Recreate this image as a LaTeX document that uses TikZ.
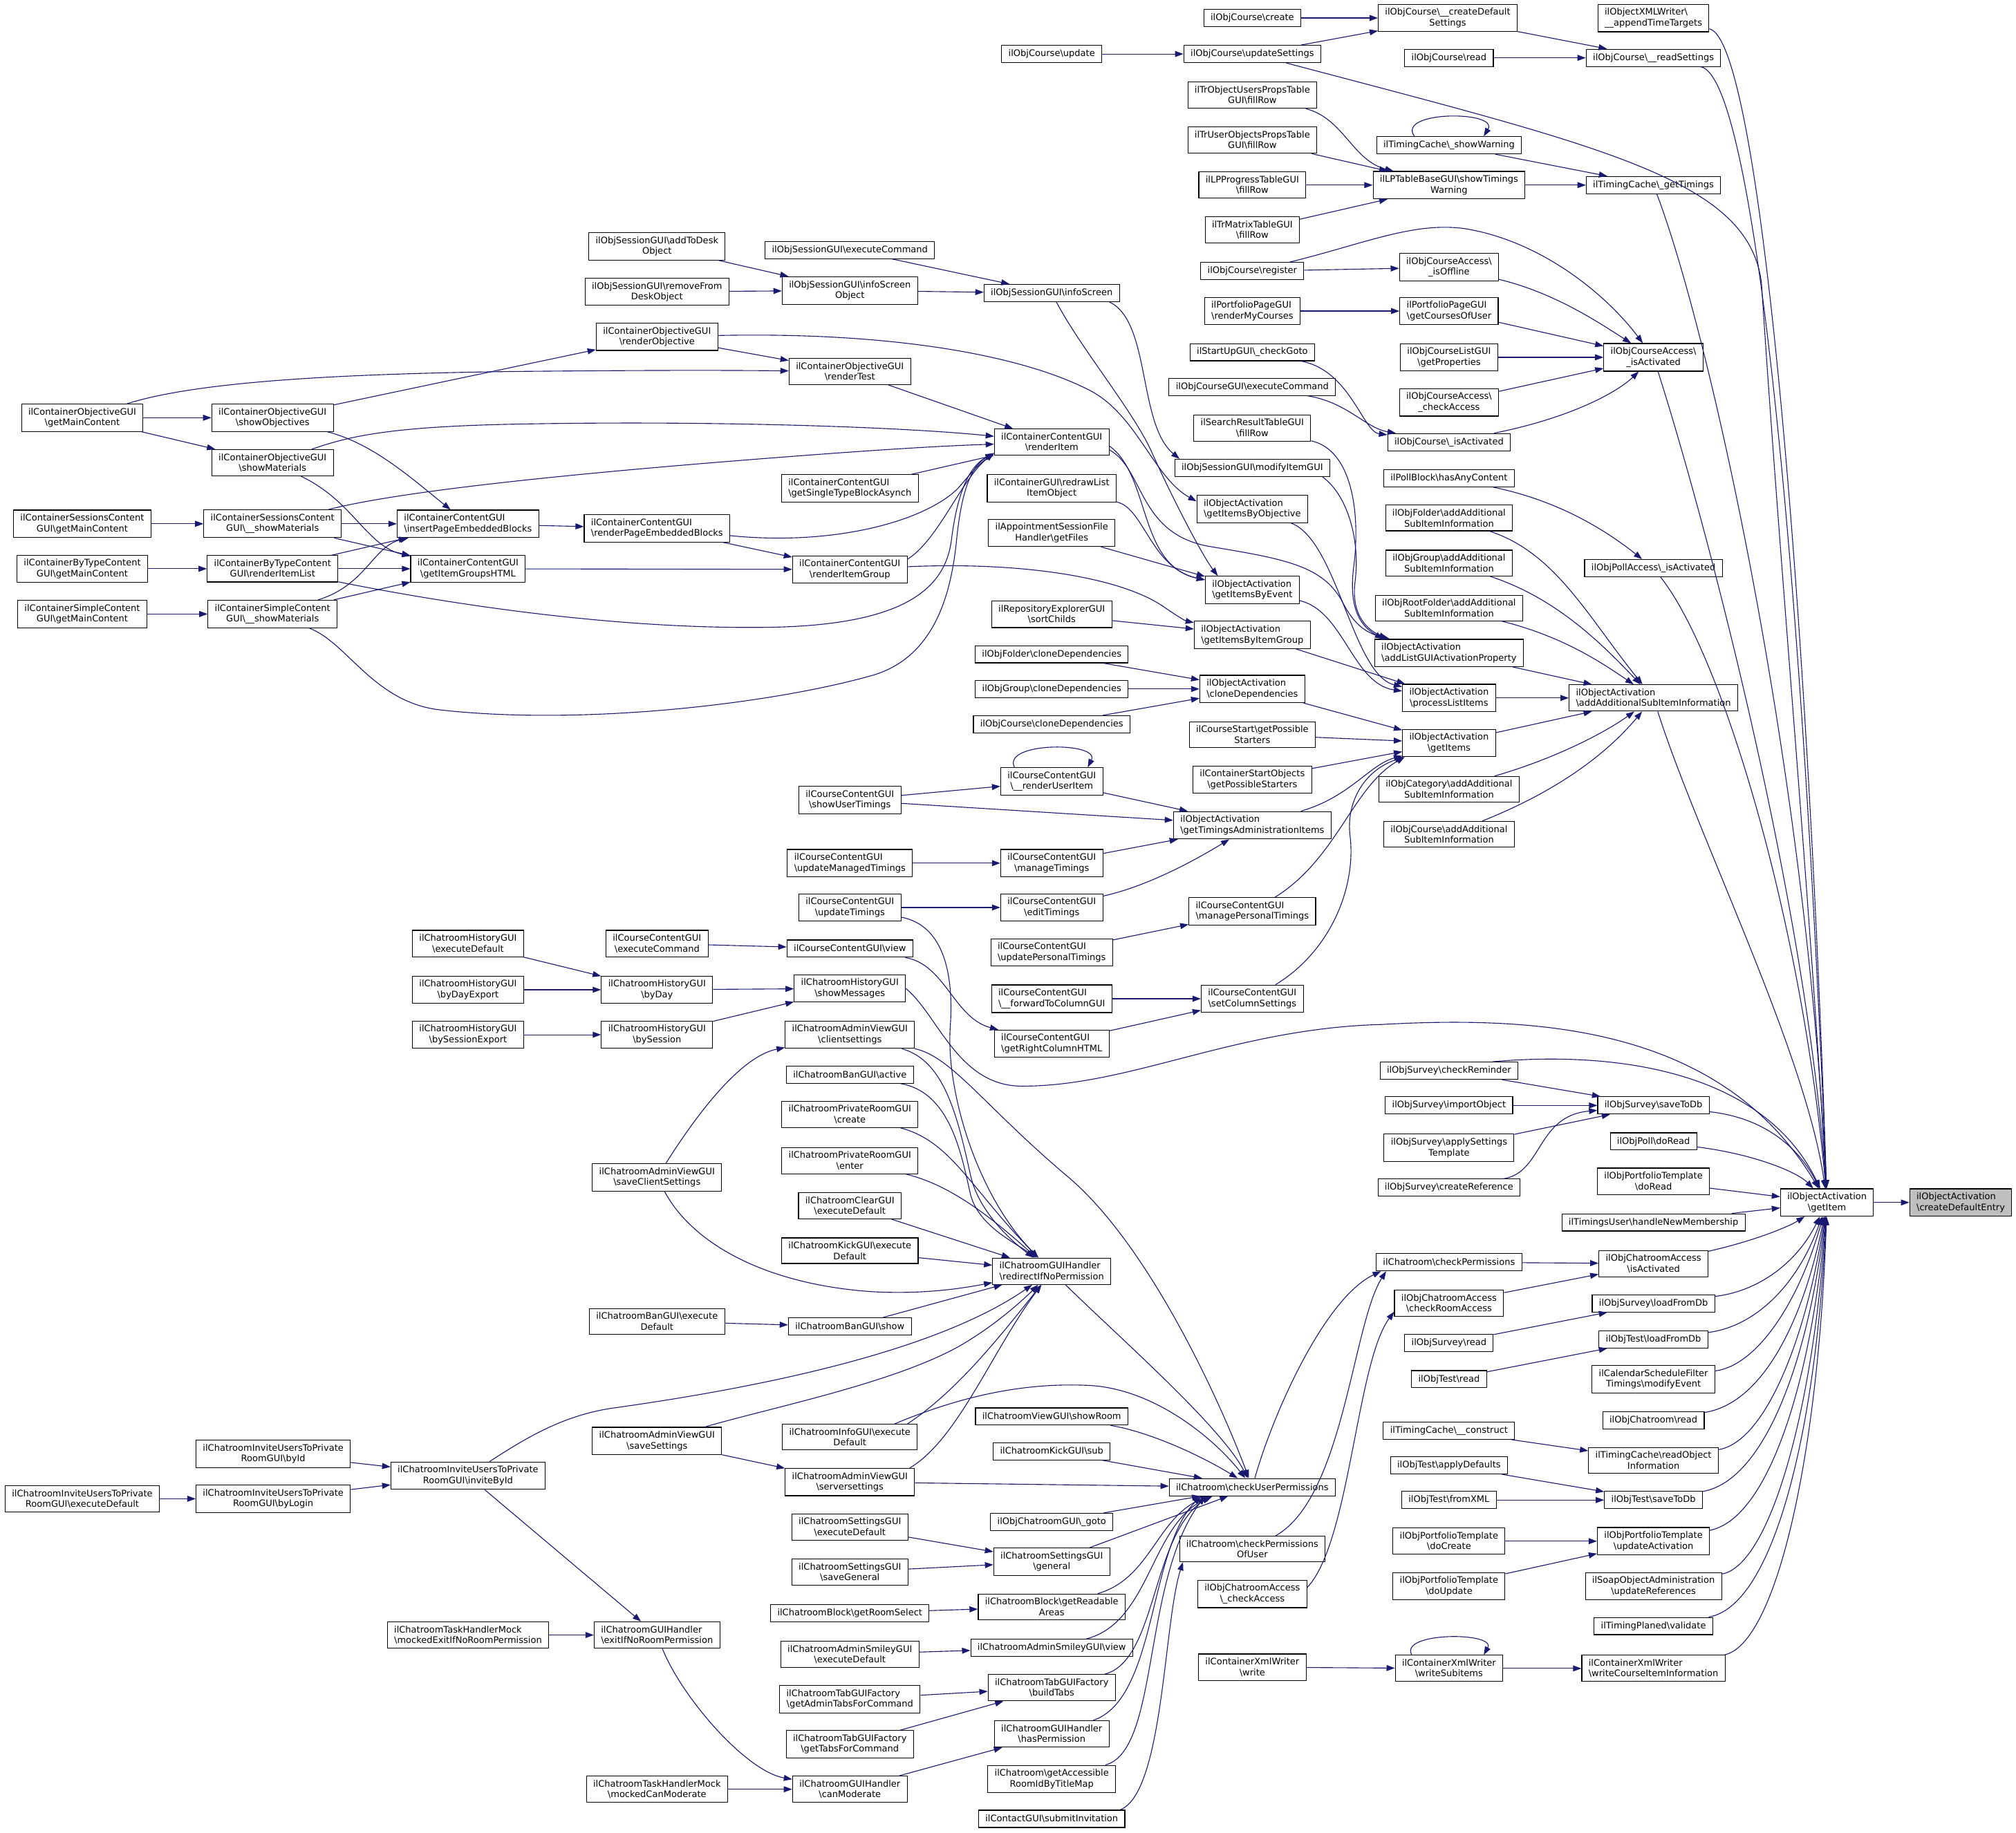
\documentclass[tikz,border=0pt]{standalone}
\usepackage{fontspec}
\setmainfont{DejaVu Sans}
\usetikzlibrary{arrows.meta}
\definecolor{edgec}{RGB}{25,25,112}
\definecolor{hl}{RGB}{191,191,191}
\newcommand\bsl{\textbackslash}
\newcommand\twoline[2]{%
  \setbox0=\hbox{#1}\setbox2=\hbox{#2}%
  \ifdim\wd0<\wd2 \dimen0=\wd2 \else \dimen0=\wd0 \fi
  \vbox{\hbox to\dimen0{\unhcopy0\hfil}\hbox to\dimen0{\hfil\unhcopy2\hfil}}}
\tikzset{
  nd/.style={draw=black, line width=0.6pt, fill=white, inner xsep=5.3pt, inner ysep=3.1pt,
    minimum height=13.4pt, font=\fontsize{7}{8.3}\selectfont},
  edg/.style={draw=edgec, line width=0.6pt, -{Triangle[length=6.5pt,width=4.6pt]}}
}
\begin{document}
\begin{tikzpicture}[x=1pt,y=1pt]
\fill[white] (0,0) rectangle (1568,-1425.6);
\useasboundingbox (0,0) rectangle (1568,-1425.6);
% column 1
\node[nd] (c1a) at (64,-325) {\twoline{ilContainerObjectiveGUI}{\bsl getMainContent}};
\node[nd] (c1b) at (64,-407.5) {\twoline{ilContainerSessionsContent}{GUI\bsl getMainContent}};
\node[nd] (c1c) at (64,-442.5) {\twoline{ilContainerByTypeContent}{GUI\bsl getMainContent}};
\node[nd] (c1d) at (64,-477.7) {\twoline{ilContainerSimpleContent}{GUI\bsl getMainContent}};
\node[nd] (c1e) at (64,-1166) {\twoline{ilChatroomInviteUsersToPrivate}{RoomGUI\bsl executeDefault}};
% column 2
\node[nd] (showObj) at (212,-325) {\twoline{ilContainerObjectiveGUI}{\bsl showObjectives}};
\node[nd] (showMatO) at (212,-360) {\twoline{ilContainerObjectiveGUI}{\bsl showMaterials}};
\node[nd] (sessShow) at (212,-407.5) {\twoline{ilContainerSessionsContent}{GUI\bsl\_\_showMaterials}};
\node[nd] (renderList) at (212,-442.5) {\twoline{ilContainerByTypeContent}{GUI\bsl renderItemList}};
\node[nd] (simpleShow) at (212,-477.7) {\twoline{ilContainerSimpleContent}{GUI\bsl\_\_showMaterials}};
\node[nd] (byId) at (212.5,-1131) {\twoline{ilChatroomInviteUsersToPrivate}{RoomGUI\bsl byId}};
\node[nd] (byLogin) at (212.5,-1166) {\twoline{ilChatroomInviteUsersToPrivate}{RoomGUI\bsl byLogin}};
% column 3
\node[nd] (insertPEB) at (364,-407.5) {\twoline{ilContainerContentGUI}{\bsl insertPageEmbeddedBlocks}};
\node[nd] (groupsHTML) at (364,-442.5) {\twoline{ilContainerContentGUI}{\bsl getItemGroupsHTML}};
\node[nd] (histExec) at (364,-734) {\twoline{ilChatroomHistoryGUI}{\bsl executeDefault}};
\node[nd] (histDayExp) at (364,-770) {\twoline{ilChatroomHistoryGUI}{\bsl byDayExport}};
\node[nd] (histSessExp) at (364,-805) {\twoline{ilChatroomHistoryGUI}{\bsl bySessionExport}};
\node[nd] (inviteById) at (364,-1148) {\twoline{ilChatroomInviteUsersToPrivate}{RoomGUI\bsl inviteById}};
\node[nd] (mockExit) at (364,-1272) {\twoline{ilChatroomTaskHandlerMock}{\bsl mockedExitIfNoRoomPermission}};
% column 4
\node[nd] (addToDesk) at (511,-191.6) {\twoline{ilObjSessionGUI\bsl addToDesk}{Object}};
\node[nd] (removeFromDesk) at (511,-227) {\twoline{ilObjSessionGUI\bsl removeFrom}{DeskObject}};
\node[nd] (renderObjective) at (511,-262) {\twoline{ilContainerObjectiveGUI}{\bsl renderObjective}};
\node[nd] (renderPEB) at (511,-411) {\twoline{ilContainerContentGUI}{\bsl renderPageEmbeddedBlocks}};
\node[nd] (ccExec) at (511,-734) {\twoline{ilCourseContentGUI}{\bsl executeCommand}};
\node[nd] (byDay) at (511,-770) {\twoline{ilChatroomHistoryGUI}{\bsl byDay}};
\node[nd] (bySession) at (511,-805) {\twoline{ilChatroomHistoryGUI}{\bsl bySession}};
\node[nd] (saveClient) at (511,-916) {\twoline{ilChatroomAdminViewGUI}{\bsl saveClientSettings}};
\node[nd] (banExec) at (511,-1028) {\twoline{ilChatroomBanGUI\bsl execute}{Default}};
\node[nd] (saveSettings) at (511,-1121) {\twoline{ilChatroomAdminViewGUI}{\bsl saveSettings}};
\node[nd] (exitIf) at (511,-1272) {\twoline{ilChatroomGUIHandler}{\bsl exitIfNoRoomPermission}};
\node[nd] (mockCan) at (511,-1392) {\twoline{ilChatroomTaskHandlerMock}{\bsl mockedCanModerate}};
% column 5
\node[nd] (sessExec) at (661,-194.5) {ilObjSessionGUI\bsl executeCommand};
\node[nd] (infoScreenObj) at (661,-226) {\twoline{ilObjSessionGUI\bsl infoScreen}{Object}};
\node[nd] (renderTest) at (661,-289) {\twoline{ilContainerObjectiveGUI}{\bsl renderTest}};
\node[nd] (singleType) at (661,-380) {\twoline{ilContainerContentGUI}{\bsl getSingleTypeBlockAsynch}};
\node[nd] (renderGroup) at (661,-443) {\twoline{ilContainerContentGUI}{\bsl renderItemGroup}};
\node[nd] (showUserT) at (661,-622.5) {\twoline{ilCourseContentGUI}{\bsl showUserTimings}};
\node[nd] (updManaged) at (661,-671.5) {\twoline{ilCourseContentGUI}{\bsl updateManagedTimings}};
\node[nd] (updTimings) at (661,-706) {\twoline{ilCourseContentGUI}{\bsl updateTimings}};
\node[nd] (ccView) at (661,-738) {ilCourseContentGUI\bsl view};
\node[nd] (showMsg) at (661,-769) {\twoline{ilChatroomHistoryGUI}{\bsl showMessages}};
\node[nd] (clientSet) at (661,-805) {\twoline{ilChatroomAdminViewGUI}{\bsl clientsettings}};
\node[nd] (banActive) at (661,-836) {ilChatroomBanGUI\bsl active};
\node[nd] (privCreate) at (661,-867) {\twoline{ilChatroomPrivateRoomGUI}{\bsl create}};
\node[nd] (privEnter) at (661,-903) {\twoline{ilChatroomPrivateRoomGUI}{\bsl enter}};
\node[nd] (clearExec) at (661,-938) {\twoline{ilChatroomClearGUI}{\bsl executeDefault}};
\node[nd] (kickExec) at (661,-973) {\twoline{ilChatroomKickGUI\bsl execute}{Default}};
\node[nd] (banShow) at (661,-1032) {ilChatroomBanGUI\bsl show};
\node[nd] (infoExec) at (661,-1118) {\twoline{ilChatroomInfoGUI\bsl execute}{Default}};
\node[nd] (serverSet) at (661,-1153) {\twoline{ilChatroomAdminViewGUI}{\bsl serversettings}};
\node[nd] (setExec) at (661,-1188) {\twoline{ilChatroomSettingsGUI}{\bsl executeDefault}};
\node[nd] (saveGeneral) at (661,-1223) {\twoline{ilChatroomSettingsGUI}{\bsl saveGeneral}};
\node[nd] (roomSelect) at (661,-1255) {ilChatroomBlock\bsl getRoomSelect};
\node[nd] (smileyExec) at (661,-1287) {\twoline{ilChatroomAdminSmileyGUI}{\bsl executeDefault}};
\node[nd] (adminTabs) at (661,-1322) {\twoline{ilChatroomTabGUIFactory}{\bsl getAdminTabsForCommand}};
\node[nd] (tabsFor) at (661,-1357) {\twoline{ilChatroomTabGUIFactory}{\bsl getTabsForCommand}};
\node[nd] (canModerate) at (661,-1392) {\twoline{ilChatroomGUIHandler}{\bsl canModerate}};
% column 6
\node[nd] (update) at (818,-42) {ilObjCourse\bsl update};
\node[nd] (infoScreen) at (818,-228) {ilObjSessionGUI\bsl infoScreen};
\node[nd] (renderItem) at (818,-344) {\twoline{ilContainerContentGUI}{\bsl renderItem}};
\node[nd] (redrawList) at (818,-380) {\twoline{ilContainerGUI\bsl redrawList}{ItemObject}};
\node[nd] (getFiles) at (818,-414.5) {\twoline{ilAppointmentSessionFile}{Handler\bsl getFiles}};
\node[nd] (sortChilds) at (818,-478) {\twoline{ilRepositoryExplorerGUI}{\bsl sortChilds}};
\node[nd] (folderClone) at (818,-509) {ilObjFolder\bsl cloneDependencies};
\node[nd] (groupClone) at (818,-536) {ilObjGroup\bsl cloneDependencies};
\node[nd] (courseClone) at (818,-563.5) {ilObjCourse\bsl cloneDependencies};
\node[nd] (renderUser) at (818,-608) {\twoline{ilCourseContentGUI}{\bsl\_\_renderUserItem}};
\node[nd] (manageT) at (818,-671.5) {\twoline{ilCourseContentGUI}{\bsl manageTimings}};
\node[nd] (editT) at (818,-706) {\twoline{ilCourseContentGUI}{\bsl editTimings}};
\node[nd] (updPersonal) at (818,-741) {\twoline{ilCourseContentGUI}{\bsl updatePersonalTimings}};
\node[nd] (forwardCol) at (818,-777) {\twoline{ilCourseContentGUI}{\bsl\_\_forwardToColumnGUI}};
\node[nd] (rightCol) at (818,-812) {\twoline{ilCourseContentGUI}{\bsl getRightColumnHTML}};
\node[nd] (redirect) at (818,-989) {\twoline{ilChatroomGUIHandler}{\bsl redirectIfNoPermission}};
\node[nd] (showRoom) at (818,-1102) {ilChatroomViewGUI\bsl showRoom};
\node[nd] (kickSub) at (818,-1129) {ilChatroomKickGUI\bsl sub};
\node[nd] (goto) at (818,-1184) {ilObjChatroomGUI\bsl\_goto};
\node[nd] (general) at (818,-1215) {\twoline{ilChatroomSettingsGUI}{\bsl general}};
\node[nd] (readable) at (818,-1250) {\twoline{ilChatroomBlock\bsl getReadable}{Areas}};
\node[nd] (smileyView) at (818,-1282) {ilChatroomAdminSmileyGUI\bsl view};
\node[nd] (buildTabs) at (818,-1313) {\twoline{ilChatroomTabGUIFactory}{\bsl buildTabs}};
\node[nd] (hasPerm) at (818,-1349) {\twoline{ilChatroomGUIHandler}{\bsl hasPermission}};
\node[nd] (accessible) at (818,-1384) {\twoline{ilChatroom\bsl getAccessible}{RoomIdByTitleMap}};
\node[nd] (submitInv) at (818,-1415) {ilContactGUI\bsl submitInvitation};
% column 7
\node[nd] (create) at (974,-14) {ilObjCourse\bsl create};
\node[nd] (updSettings) at (974,-42) {ilObjCourse\bsl updateSettings};
\node[nd] (trObj) at (974,-74) {\twoline{ilTrObjectUsersPropsTable}{GUI\bsl fillRow}};
\node[nd] (trUser) at (974,-109) {\twoline{ilTrUserObjectsPropsTable}{GUI\bsl fillRow}};
\node[nd] (lpProg) at (974,-144) {\twoline{ilLPProgressTableGUI}{\bsl fillRow}};
\node[nd] (trMatrix) at (974,-179) {\twoline{ilTrMatrixTableGUI}{\bsl fillRow}};
\node[nd] (register) at (974,-211) {ilObjCourse\bsl register};
\node[nd] (renderMy) at (974,-242) {\twoline{ilPortfolioPageGUI}{\bsl renderMyCourses}};
\node[nd] (checkGoto) at (974,-274) {ilStartUpGUI\bsl\_checkGoto};
\node[nd] (courseGUIExec) at (974,-301) {ilObjCourseGUI\bsl executeCommand};
\node[nd] (searchFill) at (974,-333) {\twoline{ilSearchResultTableGUI}{\bsl fillRow}};
\node[nd] (modifyItem) at (974,-364) {ilObjSessionGUI\bsl modifyItemGUI};
\node[nd] (byObjective) at (974,-396) {\twoline{ilObjectActivation}{\bsl getItemsByObjective}};
\node[nd] (byEvent) at (974,-459) {\twoline{ilObjectActivation}{\bsl getItemsByEvent}};
\node[nd] (byItemGroup) at (974,-494) {\twoline{ilObjectActivation}{\bsl getItemsByItemGroup}};
\node[nd] (oaClone) at (974,-536) {\twoline{ilObjectActivation}{\bsl cloneDependencies}};
\node[nd] (courseStart) at (974,-571.5) {\twoline{ilCourseStart\bsl getPossible}{Starters}};
\node[nd] (startObjs) at (974,-606.5) {\twoline{ilContainerStartObjects}{\bsl getPossibleStarters}};
\node[nd] (timingsAdmin) at (974,-642) {\twoline{ilObjectActivation}{\bsl getTimingsAdministrationItems}};
\node[nd] (managePersonal) at (974,-709) {\twoline{ilCourseContentGUI}{\bsl managePersonalTimings}};
\node[nd] (setColumn) at (974,-777) {\twoline{ilCourseContentGUI}{\bsl setColumnSettings}};
\node[nd] (checkUser) at (974,-1157) {ilChatroom\bsl checkUserPermissions};
\node[nd] (checkPermOf) at (974,-1205) {\twoline{ilChatroom\bsl checkPermissions}{OfUser}};
\node[nd] (chatCheckAccess) at (974,-1240) {\twoline{ilObjChatroomAccess}{\bsl\_checkAccess}};
\node[nd] (xmlWrite) at (974,-1297) {\twoline{ilContainerXmlWriter}{\bsl write}};
% column 8
\node[nd] (createDefault) at (1126,-14) {\twoline{ilObjCourse\bsl\_\_createDefault}{Settings}};
\node[nd] (courseRead) at (1127,-45) {ilObjCourse\bsl read};
\node[nd] (showWarning) at (1127,-113) {ilTimingCache\bsl\_showWarning};
\node[nd] (showTimingsW) at (1127,-144) {\twoline{ilLPTableBaseGUI\bsl showTimings}{Warning}};
\node[nd] (isOffline) at (1127,-208) {\twoline{ilObjCourseAccess\bsl}{\_isOffline}};
\node[nd] (getCourses) at (1127,-242) {\twoline{ilPortfolioPageGUI}{\bsl getCoursesOfUser}};
\node[nd] (getProps) at (1127,-278) {\twoline{ilObjCourseListGUI}{\bsl getProperties}};
\node[nd] (courseAccCheck) at (1127,-313) {\twoline{ilObjCourseAccess\bsl}{\_checkAccess}};
\node[nd] (courseIsAct) at (1127,-344) {ilObjCourse\bsl\_isActivated};
\node[nd] (pollBlock) at (1127,-372) {ilPollBlock\bsl hasAnyContent};
\node[nd] (folderAdd) at (1127,-403) {\twoline{ilObjFolder\bsl addAdditional}{SubItemInformation}};
\node[nd] (groupAdd) at (1127,-438) {\twoline{ilObjGroup\bsl addAdditional}{SubItemInformation}};
\node[nd] (rootAdd) at (1127,-473) {\twoline{ilObjRootFolder\bsl addAdditional}{SubItemInformation}};
\node[nd] (addListGUI) at (1127,-508) {\twoline{ilObjectActivation}{\bsl addListGUIActivationProperty}};
\node[nd] (processList) at (1127,-543) {\twoline{ilObjectActivation}{\bsl processListItems}};
\node[nd] (getItems) at (1127,-578) {\twoline{ilObjectActivation}{\bsl getItems}};
\node[nd] (catAdd) at (1127,-614) {\twoline{ilObjCategory\bsl addAdditional}{SubItemInformation}};
\node[nd] (courseAdd) at (1127,-649) {\twoline{ilObjCourse\bsl addAdditional}{SubItemInformation}};
\node[nd] (checkReminder) at (1127,-833) {ilObjSurvey\bsl checkReminder};
\node[nd] (importObj) at (1127,-860) {ilObjSurvey\bsl importObject};
\node[nd] (applySettings) at (1127,-893) {\twoline{ilObjSurvey\bsl applySettings}{Template}};
\node[nd] (createRef) at (1127,-924) {ilObjSurvey\bsl createReference};
\node[nd] (checkPerms) at (1127,-982) {ilChatroom\bsl checkPermissions};
\node[nd] (checkRoom) at (1127,-1014) {\twoline{ilObjChatroomAccess}{\bsl checkRoomAccess}};
\node[nd] (surveyRead) at (1127,-1045) {ilObjSurvey\bsl read};
\node[nd] (testRead) at (1127,-1073) {ilObjTest\bsl read};
\node[nd] (tcConstruct) at (1127,-1113) {ilTimingCache\bsl\_\_construct};
\node[nd] (testDefaults) at (1127,-1140) {ilObjTest\bsl applyDefaults};
\node[nd] (testFromXML) at (1127,-1167) {ilObjTest\bsl fromXML};
\node[nd] (ptCreate) at (1127,-1199) {\twoline{ilObjPortfolioTemplate}{\bsl doCreate}};
\node[nd] (ptUpdate) at (1127,-1234) {\twoline{ilObjPortfolioTemplate}{\bsl doUpdate}};
\node[nd] (writeSub) at (1127,-1298) {\twoline{ilContainerXmlWriter}{\bsl writeSubitems}};
% column 9
\node[nd] (appendTT) at (1286,-14) {\twoline{ilObjectXMLWriter\bsl}{\_\_appendTimeTargets}};
\node[nd] (readSettings) at (1286,-45) {ilObjCourse\bsl\_\_readSettings};
\node[nd] (getTimings) at (1286,-144) {ilTimingCache\bsl\_getTimings};
\node[nd] (courseAccAct) at (1286,-278) {\twoline{ilObjCourseAccess\bsl}{\_isActivated}};
\node[nd] (pollAcc) at (1286,-442) {ilObjPollAccess\bsl\_isActivated};
\node[nd] (addAdd) at (1286,-543) {\twoline{ilObjectActivation}{\bsl addAdditionalSubItemInformation}};
\node[nd] (surveySave) at (1286,-860) {ilObjSurvey\bsl saveToDb};
\node[nd] (pollRead) at (1286,-888) {ilObjPoll\bsl doRead};
\node[nd] (ptRead) at (1286,-919) {\twoline{ilObjPortfolioTemplate}{\bsl doRead}};
\node[nd] (newMember) at (1286,-951) {ilTimingsUser\bsl handleNewMembership};
\node[nd] (chatAccAct) at (1286,-983) {\twoline{ilObjChatroomAccess}{\bsl isActivated}};
\node[nd] (surveyLoad) at (1286,-1014) {ilObjSurvey\bsl loadFromDb};
\node[nd] (testLoad) at (1286,-1042) {ilObjTest\bsl loadFromDb};
\node[nd] (calFilter) at (1286,-1073) {\twoline{ilCalendarScheduleFilter}{Timings\bsl modifyEvent}};
\node[nd] (chatRead) at (1286,-1105) {ilObjChatroom\bsl read};
\node[nd] (readObjInfo) at (1286,-1136) {\twoline{ilTimingCache\bsl readObject}{Information}};
\node[nd] (testSave) at (1286,-1167) {ilObjTest\bsl saveToDb};
\node[nd] (ptActivation) at (1286,-1199) {\twoline{ilObjPortfolioTemplate}{\bsl updateActivation}};
\node[nd] (soapUpdate) at (1286,-1234) {\twoline{ilSoapObjectAdministration}{\bsl updateReferences}};
\node[nd] (timingValidate) at (1286,-1265) {ilTimingPlaned\bsl validate};
\node[nd] (writeCourseItem) at (1286,-1298) {\twoline{ilContainerXmlWriter}{\bsl writeCourseItemInformation}};
% columns 10, 11
\node[nd] (getItem) at (1421,-935.5) {\twoline{ilObjectActivation}{\bsl getItem}};
\node[nd, fill=hl] (entry) at (1525,-935.5) {\twoline{ilObjectActivation}{\bsl createDefaultEntry}};

% ---------- straight edges ----------
\foreach \a/\b in {getItem/entry, create/createDefault, updSettings/createDefault, update/updSettings,
  createDefault/readSettings, courseRead/readSettings, showWarning/getTimings, showTimingsW/getTimings,
  trUser/showTimingsW, lpProg/showTimingsW, trMatrix/showTimingsW, register/isOffline,
  renderMy/getCourses, getCourses/courseAccAct, getProps/courseAccAct, courseAccCheck/courseAccAct,
  addListGUI/addAdd, processList/addAdd, getItems/addAdd, byItemGroup/processList,
  getFiles/byEvent, sortChilds/byItemGroup, folderClone/oaClone, groupClone/oaClone, courseClone/oaClone,
  oaClone/getItems, courseStart/getItems, startObjs/getItems,
  showUserT/renderUser, showUserT/timingsAdmin, renderUser/timingsAdmin, updManaged/manageT,
  manageT/timingsAdmin, updTimings/editT, updPersonal/managePersonal, forwardCol/setColumn,
  rightCol/setColumn, ccExec/ccView, histExec/byDay, histDayExp/byDay, histSessExp/bySession,
  byDay/showMsg, bySession/showMsg, clearExec/redirect, kickExec/redirect, banShow/redirect,
  banExec/banShow, serverSet/checkUser, saveSettings/serverSet, inviteById/exitIf,
  byId/inviteById, byLogin/inviteById, c1e/byLogin, mockExit/exitIf, mockCan/canModerate,
  canModerate/hasPerm, setExec/general, saveGeneral/general, roomSelect/readable,
  smileyExec/smileyView, adminTabs/buildTabs, tabsFor/buildTabs, kickSub/checkUser, goto/checkUser,
  general/checkUser, checkPerms/chatAccAct, checkRoom/chatAccAct, importObj/surveySave,
  checkReminder/surveySave, applySettings/surveySave, surveyRead/surveyLoad, testRead/testLoad,
  tcConstruct/readObjInfo, testDefaults/testSave, testFromXML/testSave, ptCreate/ptActivation,
  ptUpdate/ptActivation, xmlWrite/writeSub, writeSub/writeCourseItem, ptRead/getItem, newMember/getItem,
  c1a/showObj, c1a/showMatO, showObj/renderObjective, sessShow/insertPEB, sessShow/groupsHTML,
  c1b/sessShow, c1c/renderList, c1d/simpleShow, renderList/insertPEB, renderList/groupsHTML,
  simpleShow/groupsHTML, insertPEB/renderPEB, renderPEB/renderGroup, groupsHTML/renderGroup,
  singleType/renderItem, renderTest/renderItem, renderObjective/renderTest,
  addToDesk/infoScreenObj, removeFromDesk/infoScreenObj, infoScreenObj/infoScreen, sessExec/infoScreen}
  {\draw[edg] (\a) -- (\b);}

% ---------- curved edges into getItem ----------
\draw[edg] (appendTT) .. controls (1368,-30) and (1405,-450) .. (getItem);
\draw[edg] (readSettings) .. controls (1365,-60) and (1402,-450) .. (getItem);
\draw[edg] (updSettings) .. controls (1250,-115) and (1360,-140) .. (1370,-220) .. controls (1385,-450) and (1408,-700) .. (getItem);
\draw[edg] (getTimings) .. controls (1330,-260) and (1405,-600) .. (getItem);
\draw[edg] (courseAccAct) .. controls (1325,-400) and (1405,-700) .. (getItem);
\draw[edg] (pollAcc) .. controls (1340,-510) and (1402,-720) .. (getItem);
\draw[edg] (addAdd) .. controls (1320,-650) and (1405,-820) .. (getItem);
\draw[edg] (showMsg.east) .. controls (730,-790) and (745,-845) .. (795,-845) .. controls (880,-845) and (960,-800) .. (1075,-797) .. controls (1200,-790) and (1340,-800) .. (getItem);
\draw[edg] ([xshift=-20pt]checkReminder.north east) .. controls (1250,-818) and (1370,-830) .. (getItem);
\draw[edg] (surveySave) .. controls (1375,-870) and (1400,-895) .. (getItem);
\draw[edg] (pollRead) .. controls (1365,-898) and (1398,-912) .. (getItem);
\draw[edg] (chatAccAct) .. controls (1362,-966) and (1390,-955) .. (getItem);
\draw[edg] (surveyLoad) .. controls (1365,-1005) and (1396,-985) .. (getItem);
\draw[edg] (testLoad) .. controls (1365,-1032) and (1398,-1000) .. (getItem);
\draw[edg] (calFilter) .. controls (1368,-1062) and (1400,-1010) .. (getItem);
\draw[edg] (chatRead) .. controls (1370,-1092) and (1402,-1030) .. (getItem);
\draw[edg] (readObjInfo) .. controls (1372,-1122) and (1404,-1045) .. (getItem);
\draw[edg] (testSave) .. controls (1372,-1152) and (1406,-1060) .. (getItem);
\draw[edg] (ptActivation) .. controls (1374,-1182) and (1408,-1080) .. (getItem);
\draw[edg] (soapUpdate) .. controls (1376,-1218) and (1410,-1100) .. (getItem);
\draw[edg] (timingValidate) .. controls (1378,-1250) and (1412,-1120) .. (getItem);
\draw[edg] (writeCourseItem) .. controls (1380,-1280) and (1414,-1140) .. (getItem);

% ---------- upper right ----------
\draw[edg] (trObj) .. controls (1045,-92) and (1052,-125) .. (showTimingsW);
\draw[edg] (register) .. controls (1060,-190) and (1100,-172) .. (1140,-178) .. controls (1200,-188) and (1250,-230) .. (courseAccAct);
\draw[edg] (isOffline) .. controls (1210,-228) and (1245,-252) .. (courseAccAct);
\draw[edg] (courseIsAct) .. controls (1222,-325) and (1258,-305) .. (courseAccAct);
\draw[edg] (checkGoto) .. controls (1050,-288) and (1060,-336) .. (courseIsAct);
\draw[edg] (courseGUIExec) .. controls (1048,-313) and (1062,-333) .. (courseIsAct);
\draw[edg] (pollBlock) .. controls (1215,-390) and (1252,-415) .. (pollAcc);
\draw[edg] (folderAdd) .. controls (1210,-430) and (1235,-480) .. (addAdd);
\draw[edg] (groupAdd) .. controls (1210,-465) and (1245,-500) .. (addAdd);
\draw[edg] (rootAdd) .. controls (1215,-495) and (1245,-515) .. (addAdd);
\draw[edg] (catAdd) .. controls (1210,-590) and (1248,-570) .. (addAdd);
\draw[edg] (courseAdd) .. controls (1220,-612) and (1255,-580) .. (addAdd);
\draw[edg] ([xshift=-27pt]showWarning.north) .. controls +(-14,20) and +(12,20) .. ([xshift=27pt]showWarning.north);

% ---------- ilObjectActivation middle ----------
\draw[edg] ([yshift=-6pt]renderItem.east) .. controls (890,-365) and (885,-415) .. (940,-425) .. controls (1000,-435) and (1030,-440) .. (1045,-470) .. controls (1052,-483) and (1060,-492) .. ([xshift=12pt]addListGUI.north west);
\draw[edg] (searchFill) .. controls (1052,-350) and (1058,-400) .. (1053,-440) .. controls (1049,-470) and (1056,-486) .. ([xshift=7pt]addListGUI.north west);
\draw[edg] ([xshift=-6pt]modifyItem.south east) .. controls (1048,-385) and (1058,-420) .. (1054,-452) .. controls (1051,-475) and (1060,-488) .. ([xshift=10pt]addListGUI.north west);
\draw[edg] (byObjective) .. controls (1040,-420) and (1052,-525) .. (processList);
\draw[edg] (byEvent) .. controls (1045,-475) and (1052,-532) .. (processList);
\draw[edg] ([xshift=-8pt]infoScreen.south east) .. controls (895,-250) and (885,-330) .. ([xshift=4pt]modifyItem.north west);
\draw[edg] (infoScreen) .. controls (840,-270) and (880,-318) .. (895,-350) .. controls (912,-388) and (935,-432) .. ([xshift=10pt]byEvent.north west);
\draw[edg] (renderObjective) .. controls (700,-258) and (800,-278) .. (850,-305) .. controls (885,-325) and (898,-372) .. ([yshift=6pt]byObjective.west);
\draw[edg] ([yshift=-3pt]renderItem.east) .. controls (895,-370) and (885,-440) .. (byEvent);
\draw[edg] (redrawList) .. controls (890,-395) and (895,-442) .. (byEvent);
\draw[edg] (renderGroup) .. controls (790,-437) and (870,-448) .. (905,-472) .. controls (915,-479) and (922,-483) .. (byItemGroup);
\draw[edg] (timingsAdmin) .. controls (1050,-620) and (1065,-595) .. (getItems);
\draw[edg] (managePersonal) .. controls (1040,-668) and (1052,-612) .. ([xshift=2pt]getItems.south west);
\draw[edg] (setColumn) .. controls (1035,-740) and (1055,-690) .. (1050,-650) .. controls (1047,-625) and (1060,-600) .. ([xshift=1pt]getItems.south west);
\draw[edg] ([xshift=-29pt]renderUser.north) .. controls +(-10,20) and +(10,20) .. ([xshift=28pt]renderUser.north);
\draw[edg] (editT) .. controls (890,-690) and (925,-672) .. (timingsAdmin);
\draw[edg] (ccView) .. controls (735,-750) and (742,-792) .. (rightCol);

% ---------- chatroom ----------
\draw[edg] (updTimings) .. controls (735,-720) and (742,-760) .. (739,-800) .. controls (736,-850) and (760,-930) .. (redirect);
\draw[edg] (clientSet) .. controls (735,-825) and (745,-870) .. (755,-915) .. controls (762,-945) and (790,-968) .. (redirect);
\draw[edg] (clientSet) .. controls (740,-822) and (765,-860) .. (830,-915) .. controls (890,-965) and (945,-1080) .. (checkUser);
\draw[edg] (banActive) .. controls (740,-850) and (748,-900) .. (755,-930) .. controls (762,-955) and (792,-968) .. (redirect);
\draw[edg] (privCreate) .. controls (740,-888) and (755,-925) .. (redirect);
\draw[edg] (privEnter) .. controls (740,-922) and (772,-948) .. (redirect);
\draw[edg] (saveClient) .. controls (540,-870) and (575,-822) .. (clientSet);
\draw[edg] (saveClient) .. controls (540,-970) and (600,-1000) .. (680,-1005) .. controls (720,-1007) and (750,-1002) .. (redirect);
\draw[edg] ([xshift=-8pt]infoExec.north east) .. controls (740,-1085) and (770,-1050) .. (redirect);
\draw[edg] ([xshift=-18pt]infoExec.north east) .. controls (750,-1085) and (800,-1075) .. (850,-1078) .. controls (900,-1082) and (945,-1120) .. (checkUser);
\draw[edg] ([xshift=-4pt]serverSet.north east) .. controls (745,-1120) and (772,-1050) .. (redirect);
\draw[edg] (saveSettings) .. controls (600,-1095) and (700,-1075) .. (750,-1045) .. controls (775,-1030) and (795,-1012) .. (redirect);
\draw[edg] (inviteById) .. controls (410,-1118) and (440,-1100) .. (480,-1095) .. controls (600,-1078) and (730,-1050) .. (redirect);
\draw[edg] (exitIf) .. controls (530,-1320) and (580,-1378) .. (canModerate);
\draw[edg] (redirect) .. controls (870,-1040) and (950,-1110) .. (checkUser);
\draw[edg] (showRoom) .. controls (890,-1113) and (930,-1130) .. (checkUser);
\draw[edg] (readable) .. controls (895,-1228) and (900,-1180) .. ([xshift=31pt]checkUser.south west);
\draw[edg] (smileyView) .. controls (895,-1262) and (895,-1185) .. ([xshift=34pt]checkUser.south west);
\draw[edg] (buildTabs) .. controls (900,-1292) and (895,-1195) .. ([xshift=32pt]checkUser.south west);
\draw[edg] (hasPerm) .. controls (900,-1322) and (893,-1205) .. ([xshift=25pt]checkUser.south west);
\draw[edg] (accessible) .. controls (902,-1362) and (888,-1230) .. ([xshift=28pt]checkUser.south west);
\draw[edg] ([xshift=-4pt]submitInv.north east) .. controls (905,-1395) and (905,-1262) .. ([xshift=3pt]checkPermOf.south west);
\draw[edg] (checkUser) .. controls (990,-1100) and (1030,-1010) .. ([xshift=4pt]checkPerms.south west);
\draw[edg] (checkPermOf) .. controls (1045,-1165) and (1052,-1030) .. ([xshift=8pt]checkPerms.south west);
\draw[edg] ([yshift=5pt]chatCheckAccess.east) .. controls (1050,-1200) and (1055,-1060) .. ([yshift=4pt]checkRoom.south west);
\draw[edg] (createRef) .. controls (1200,-912) and (1195,-868) .. (surveySave);
\draw[edg] ([xshift=-29pt]writeSub.north) .. controls +(-10,18) and +(10,18) .. ([xshift=27pt]writeSub.north);

% ---------- left part ----------
\draw[edg] (c1a) .. controls (150,-298) and (250,-291) .. (400,-289) .. controls (500,-288) and (560,-288) .. (renderTest);
\draw[edg] (showObj) .. controls (290,-345) and (320,-372) .. (insertPEB);
\draw[edg] (showMatO) .. controls (270,-340) and (300,-332) .. (400,-330) .. controls (550,-327) and (700,-332) .. (renderItem);
\draw[edg] (showMatO) .. controls (275,-390) and (285,-425) .. (groupsHTML);
\draw[edg] (sessShow) .. controls (300,-385) and (400,-372) .. (591,-357) .. controls (680,-350) and (730,-347) .. (renderItem);
\draw[edg] (renderList) .. controls (350,-470) and (480,-490) .. (600,-488) .. controls (700,-486) and (735,-460) .. (740,-420) .. controls (745,-380) and (755,-362) .. ([yshift=2pt]renderItem.south west);
\draw[edg] (simpleShow) .. controls (270,-500) and (290,-545) .. (340,-552) .. controls (450,-565) and (600,-548) .. (680,-525) .. controls (728,-510) and (740,-460) .. (744,-420) .. controls (748,-380) and (756,-362) .. ([yshift=2pt]renderItem.south west);
\draw[edg] (simpleShow) .. controls (285,-455) and (290,-425) .. (insertPEB);
\draw[edg] (renderPEB) .. controls (650,-425) and (720,-405) .. (745,-380) .. controls (752,-372) and (760,-362) .. ([yshift=2pt]renderItem.south west);
\draw[edg] ([yshift=8pt]renderGroup.east) .. controls (730,-420) and (748,-372) .. ([yshift=2pt]renderItem.south west);
\end{tikzpicture}
\end{document}
